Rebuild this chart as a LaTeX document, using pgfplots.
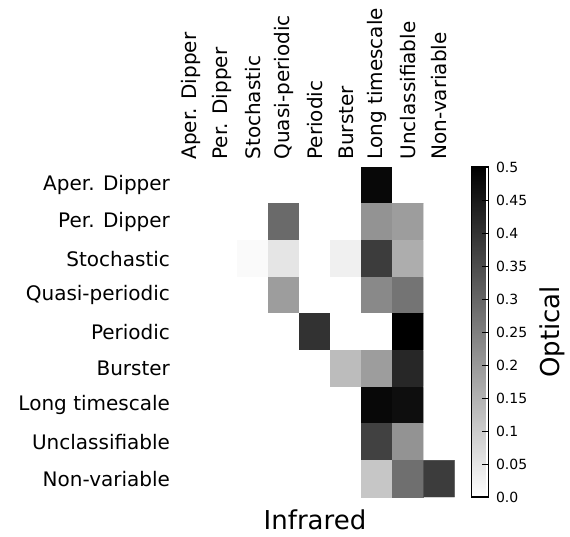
\documentclass[border=0pt]{standalone}
\usepackage{fontspec}
\setmainfont{DejaVu Sans}
\usepackage{pgfplots}
\pgfplotsset{compat=1.18}
\pgfplotstableread{
x y c
0 0 0
1 0 0
2 0 0
3 0 0
4 0 0
5 0 0
6 0 0.48
7 0 0
8 0 0
0 1 0
1 1 0
2 1 0
3 1 0.29
4 1 0
5 1 0
6 1 0.21
7 1 0.19
8 1 0
0 2 0
1 2 0
2 2 0.01
3 2 0.05
4 2 0
5 2 0.03
6 2 0.38
7 2 0.16
8 2 0
0 3 0
1 3 0
2 3 0
3 3 0.19
4 3 0
5 3 0
6 3 0.23
7 3 0.27
8 3 0
0 4 0
1 4 0
2 4 0
3 4 0
4 4 0.40
5 4 0
6 4 0
7 4 0.50
8 4 0
0 5 0
1 5 0
2 5 0
3 5 0
4 5 0
5 5 0.13
6 5 0.19
7 5 0.42
8 5 0
0 6 0
1 6 0
2 6 0
3 6 0
4 6 0
5 6 0
6 6 0.48
7 6 0.47
8 6 0
0 7 0
1 7 0
2 7 0
3 7 0
4 7 0
5 7 0
6 7 0.37
7 7 0.21
8 7 0
0 8 0
1 8 0
2 8 0
3 8 0
4 8 0
5 8 0
6 8 0.11
7 8 0.28
8 8 0.38
}\heat
\begin{document}
\begin{tikzpicture}
\path[use as bounding box] (0,0) rectangle (570pt,-537pt);
\begin{axis}[
  at={(175.5pt,-497pt)}, anchor=south west,
  scale only axis, width=279pt, height=330pt,
  xmin=-0.5, xmax=8.5, ymin=-0.5, ymax=8.5, y dir=reverse,
  enlargelimits=false,
  xtick={0,...,8}, ytick={0,...,8},
  xticklabels={Aper. Dipper,Per. Dipper,Stochastic,Quasi-periodic,Periodic,Burster,Long timescale,Unclassifiable,Non-variable},
  yticklabels={Aper. Dipper,Per. Dipper,Stochastic,Quasi-periodic,Periodic,Burster,Long timescale,Unclassifiable,Non-variable},
  xticklabel pos=upper,
  xticklabel style={rotate=90, anchor=west, font=\fontsize{20}{24}\selectfont},
  xticklabel shift=4pt,
  yticklabel style={font=\fontsize{20}{24}\selectfont},
  yticklabel shift=2pt,
  axis line style={draw=none},
  major tick length=0pt,
  xlabel={Infrared},
  xlabel style={at={(axis description cs:0.5,0)}, anchor=north, font=\fontsize{26}{30}\selectfont, yshift=-9pt},
  colormap={grayr}{gray(0cm)=(1); gray(1cm)=(0)},
  point meta min=0, point meta max=0.5,
  colorbar shift/.style={xshift=17pt},
  colorbar,
  colorbar style={
    width=17pt,
    at={(parent axis.north east)}, anchor=north west,
    ytick={0,0.05,0.1,0.15,0.2,0.25,0.3,0.35,0.4,0.45,0.5},
    yticklabels={0.0,0.05,0.1,0.15,0.2,0.25,0.3,0.35,0.4,0.45,0.5},
    yticklabel style={font=\fontsize{14}{16}\selectfont},
    yticklabel shift=4pt,
    ytick pos=right, yticklabel pos=right,
    tick align=inside, major tick length=7pt,
    tick style={black, line width=1pt},
    axis line style={draw=black, line width=1.2pt},
    ylabel={Optical},
    ylabel shift=6pt,
    ylabel style={font=\fontsize{26}{30}\selectfont},
  },
]
\addplot[matrix plot*, mesh/cols=9, point meta=explicit] table[x=x, y=y, meta=c] {\heat};
\end{axis}
\end{tikzpicture}
\end{document}
